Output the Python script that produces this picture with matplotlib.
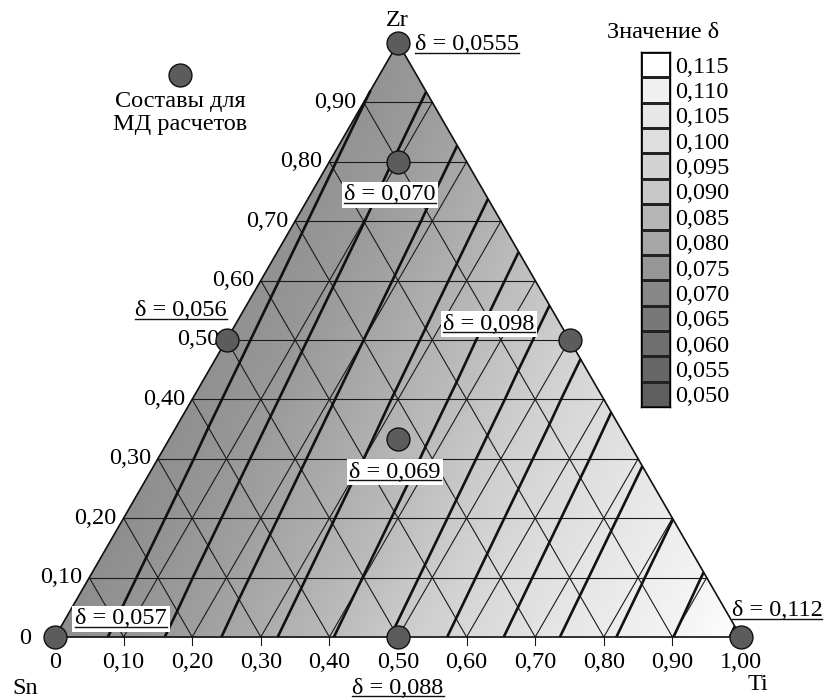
"""
Тройная диаграмма Sn-Ti-Zr: поле параметра δ, изолинии и составы для МД расчетов
"""
import numpy as np
import matplotlib
matplotlib.use('Agg')
import matplotlib.pyplot as plt
import matplotlib.tri as mtri
from matplotlib.colors import LinearSegmentedColormap, Normalize
from matplotlib.lines import Line2D

plt.rcParams['font.family'] = ['Liberation Serif', 'DejaVu Serif']
plt.rcParams['font.size'] = 17.5

# δ в узлах сетки: строки по Zr = 0,0 ... 1,0, внутри строки Ti = 0,0; 0,1; ...
DELTA_ROWS = [
    [0.0553, 0.0614, 0.0674, 0.0735, 0.0796, 0.0857, 0.0917, 0.0978, 0.1039, 0.1099, 0.1160],
    [0.0558, 0.0619, 0.0680, 0.0740, 0.0801, 0.0862, 0.0922, 0.0983, 0.1044, 0.1105],
    [0.0563, 0.0624, 0.0685, 0.0745, 0.0806, 0.0867, 0.0927, 0.0988, 0.1049],
    [0.0568, 0.0629, 0.0690, 0.0750, 0.0811, 0.0872, 0.0932, 0.0993],
    [0.0574, 0.0634, 0.0695, 0.0756, 0.0816, 0.0877, 0.0938],
    [0.0579, 0.0639, 0.0700, 0.0761, 0.0822, 0.0882],
    [0.0584, 0.0644, 0.0705, 0.0766, 0.0827],
    [0.0589, 0.0649, 0.0710, 0.0771],
    [0.0594, 0.0655, 0.0715],
    [0.0599, 0.0660],
    [0.0604],
]

# составы для МД расчетов (доли Ti и Zr) и значения δ
MD_TI = [0.0, 0.1, 0.0, 0.5, 1 / 3, 0.0, 0.5, 1.0]
MD_ZR = [1.0, 0.8, 0.5, 0.5, 1 / 3, 0.0, 0.0, 0.0]
MD_DELTA = ['0,0555', '0,070', '0,056', '0,098', '0,069', '0,057', '0,088', '0,112']

CONTOUR_LEVELS = [0.055, 0.060, 0.065, 0.070, 0.075, 0.080, 0.085, 0.090,
                  0.095, 0.100, 0.105, 0.110, 0.115]
CBAR_LEVELS = [0.050, 0.055, 0.060, 0.065, 0.070, 0.075, 0.080,
               0.085, 0.090, 0.095, 0.100, 0.105, 0.110, 0.115]
AXIS_TICKS = [0.0, 0.1, 0.2, 0.3, 0.4, 0.5, 0.6, 0.7, 0.8, 0.9, 1.0]

SQ3 = np.sqrt(3) / 2


def tern(ti, zr):
    """(Ti, Zr) -> декартовы координаты, сторона треугольника = 1"""
    ti = np.asarray(ti, dtype=float)
    zr = np.asarray(zr, dtype=float)
    return ti + zr / 2, zr * SQ3


# привязка к пикселям кадра 826x700
W, H = 826, 700
X0, Y0, SIDE = 55, 637, 686


def px(x, y):
    return (x - X0) / SIDE, (Y0 - y) / SIDE


# серая шкала
cmap = LinearSegmentedColormap.from_list('grey_delta', [
    (0.0, '#5e5e5e'), (0.23, '#787878'), (0.46, '#a5a5a5'), (0.615, '#c8c8c8'),
    (0.77, '#dedede'), (0.923, '#f0f0f0'), (1.0, '#ffffff')])
norm = Normalize(vmin=0.050, vmax=0.115)
# заливка поля чуть светлее шкалы
samples = np.linspace(0, 1, 256)
fill_rgb = cmap(samples)[:, :3] * 0.75 + 0.25
fill_cmap = LinearSegmentedColormap.from_list('grey_fill', fill_rgb)

# узлы сетки
node_ti, node_zr, node_d = [], [], []
for j, row in enumerate(DELTA_ROWS):
    for i, d in enumerate(row):
        node_ti.append(i / 10)
        node_zr.append(j / 10)
        node_d.append(d)
nx, ny = tern(node_ti, node_zr)
tri = mtri.Triangulation(nx, ny)
node_d = np.array(node_d)

fig = plt.figure(figsize=(W / 100, H / 100), dpi=100)
ax = fig.add_axes([0, 0, 1, 1])
ax.set_xlim(-X0 / SIDE, (W - X0) / SIDE)
ax.set_ylim((Y0 - H) / SIDE, Y0 / SIDE)
ax.axis('off')

ax.tripcolor(tri, node_d, cmap=fill_cmap, norm=norm, shading='gouraud', zorder=1)

# сетка 0,1 в трех направлениях
for t in AXIS_TICKS[1:-1]:
    for a, b in [((0, t), (1 - t, t)), ((t, 0), (t, 1 - t)), ((1 - t, 0), (0, 1 - t))]:
        gx, gy = tern([a[0], b[0]], [a[1], b[1]])
        ax.plot(gx, gy, color='#1a1a1a', lw=0.8, zorder=2)
    bx, _ = tern(t, 0)
    ax.plot([bx, bx], [0, -8 / SIDE], color='#1a1a1a', lw=0.8, zorder=2)

ax.tricontour(tri, node_d, levels=CONTOUR_LEVELS, colors='#111111',
              linewidths=1.9, zorder=3)

bx, by = tern([0, 1, 0, 0], [0, 0, 1, 0])
ax.plot(bx, by, color='#111111', lw=1.2, zorder=4)

# подписи осей
for t in AXIS_TICKS:
    lab = '0' if t == 0 else f'{t:.2f}'.replace('.', ',')
    ax.text(*px(X0 + SIDE * t, 663), lab, ha='center', va='center')
    if t < 1:
        ex, ey = X0 + SIDE / 2 * t, Y0 - SIDE * SQ3 * t
        if t == 0:
            ax.text(*px(31, 638), lab, ha='right', va='center')
        else:
            ax.text(*px(ex - 7, ey), lab, ha='right', va='center')

ax.text(*px(25, 689), 'Sn', ha='center', va='center')
ax.text(*px(758, 685), 'Ti', ha='center', va='center')
ax.text(*px(397, 21), 'Zr', ha='center', va='center')

# составы для МД расчетов
mx, my = tern(MD_TI, MD_ZR)
ax.plot(mx, my, 'o', ms=16.5, mfc='#5c5c5c', mec='#111111', mew=1.0,
        zorder=6, clip_on=False)

label_pos = [  # центр подписи в пикселях, белая подложка
    (467, 45, False), (390, 195, True), (181, 311, False), (489, 324, True),
    (395, 472, True), (121, 619, True), (398, 688, False), (777, 611, False)]
underlined = []
for val, (lx, ly, boxed) in zip(MD_DELTA, label_pos):
    kw = dict(ha='center', va='center', zorder=7)
    if boxed:
        kw['bbox'] = dict(facecolor='white', edgecolor='none', pad=2.0)
    underlined.append(ax.text(*px(lx, ly), 'δ = ' + val, **kw))

ax.plot(*px(180, 75), 'o', ms=16.5, mfc='#5c5c5c', mec='#111111', mew=1.0)
ax.text(*px(180, 113), 'Составы для\nМД расчетов', ha='center', va='center',
        linespacing=1.1)

# шкала значений
cax = fig.add_axes([641 / W, (H - 407) / H, 29 / W, 355 / H])
cax.pcolormesh(np.array(CBAR_LEVELS).reshape(-1, 1), cmap=cmap, norm=norm,
               edgecolors='#222222', linewidth=1.0)
cax.set_xticks([])
cax.set_yticks(np.arange(len(CBAR_LEVELS)) + 0.5)
cax.set_yticklabels([f'{v:.3f}'.replace('.', ',') for v in CBAR_LEVELS])
cax.yaxis.tick_right()
cax.tick_params(axis='y', length=0, pad=4)
for s in cax.spines.values():
    s.set_linewidth(1.0)
fig.text(663 / W, 1 - 33 / H, 'Значение δ', ha='center', va='center')

# подчеркивание подписей δ
fig.canvas.draw()
rend = fig.canvas.get_renderer()
for t in underlined:
    bb = t.get_window_extent(rend)
    uy = (bb.y0 + 3) / H
    fig.add_artist(Line2D([bb.x0 / W, bb.x1 / W], [uy, uy], transform=fig.transFigure,
                          color='#111111', lw=1.0, zorder=8))

fig.savefig('out.png', dpi=100)
